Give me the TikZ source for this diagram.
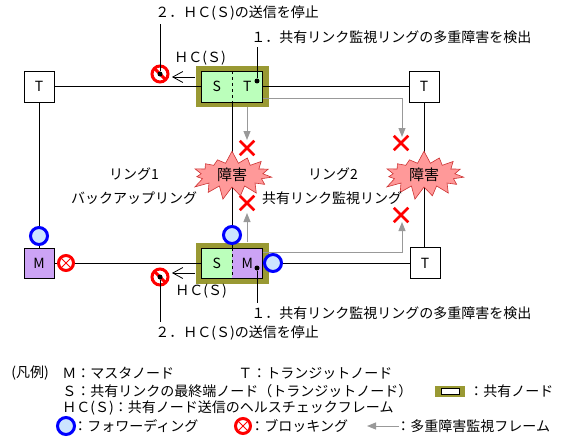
\documentclass[tikz,border=0pt]{standalone}
\usepackage{fontspec}
\setmainfont{Noto Sans CJK JP}
\usetikzlibrary{arrows.meta,positioning,shapes.misc,shapes.symbols}
\definecolor{shareolive}{HTML}{999933}
\definecolor{sgreen}{HTML}{BBFFBB}
\definecolor{mpurple}{HTML}{CCA3F5}
\definecolor{fwdblue}{HTML}{CCE4FF}
\definecolor{burstpink}{HTML}{FF9999}
\definecolor{burstred}{HTML}{CC3333}
\definecolor{mongray}{HTML}{999999}

\begin{document}
\begin{tikzpicture}[
    x=1pt, y=-1pt, line width=0.9pt,
    font=\fontsize{14pt}{16pt}\selectfont,
    box/.style={draw, fill=white, minimum width=30pt, minimum height=31pt, inner sep=0pt},
    share/.style={fill=shareolive, minimum width=73pt, minimum height=41pt, inner sep=0pt},
    half/.style={minimum width=30.5pt, minimum height=31pt, inner sep=0pt, outer sep=0pt},
    fwd/.style={circle, draw=blue, line width=3pt, fill=fwdblue, minimum size=17pt, inner sep=0pt},
    blk/.style={circle, draw=red, line width=3pt, fill=white, minimum size=15pt, inner sep=0pt,
        path picture={\node[cross out, draw=red, line width=1pt, minimum size=7pt, inner sep=0pt] at (path picture bounding box.center) {};}},
    stop/.style={circle, draw=red, line width=3pt, fill=white, minimum size=16pt, inner sep=0pt,
        path picture={\draw[red, line width=3pt] (path picture bounding box.north west) -- (path picture bounding box.south east);}},
    xmark/.style={cross out, draw=red, line width=2.5pt, minimum size=12pt, inner sep=0pt},
    burst/.style={starburst, starburst points=15, starburst point height=13pt, random starburst=7,
        fill=burstpink, draw=burstred, line width=0.6pt, minimum width=88pt, minimum height=50pt, inner sep=0pt,
        font=\fontsize{15pt}{16pt}\selectfont},
    monitor/.style={-{Triangle[length=9pt,width=7pt]}, draw=mongray, line width=1pt},
    hc/.style={-{Straight Barb[length=10pt,width=11pt]}, line width=0.8pt},
    dot/.style={circle, fill, inner sep=0pt, minimum size=5pt},
    txt/.style={inner sep=0pt, anchor=west},
]
\useasboundingbox (0,0) rectangle (583,441);

% ring nodes
\node[box] (transL) at (39,86.5) {T};
\node[box] (transR) at (424,86.5) {T};
\node[box] (transB) at (425,263) {T};
\node[box, fill=mpurple, minimum height=30pt] (master) at (39,263) {M};

\node[share] (top) at (232,86.5) {};
\node[half, fill=sgreen] (topS) at (216.75,86.5) {S};
\node[half, fill=sgreen, right=0pt of topS] (topT) {T};
\draw (topS.north west) rectangle (topT.south east);
\draw[dashed] (topS.north east) -- (topS.south east);

\node[share] (bot) at (232,263) {};
\node[half, fill=sgreen, minimum height=30pt] (botS) at (216.75,263) {S};
\node[half, fill=mpurple, minimum height=30pt, right=0pt of botS] (botM) {M};
\draw (botS.north west) rectangle (botM.south east);
\draw[dashed] (botS.north east) -- (botS.south east);

% ring links
\draw (transL) -- (topS);
\draw (topT) -- (transR);
\draw (transL) -- (master);
\draw (transR.south) -- (transR.south |- transB.north);
\draw (topS.south east) -- (botS.north east);
\draw (master) -- (botS);
\draw (botM) -- (transB);

% monitor frames
\coordinate (m1) at (402,137);
\coordinate (m2) at (247,140);
\coordinate (m3) at (247,213);
\coordinate (m4) at (402,222);
\draw[monitor] ([yshift=3pt]topT.south east) -| (m1);
\draw[monitor] (m2 |- top.south) -- (m2);
\draw[monitor] (m3 |- bot.north) -- (m3);
\draw[monitor] ([yshift=-4pt]botM.north east) -| (m4);

\foreach \p [count=\i] in {{(247,148)}, {(401,143)}, {(247,203)}, {(401,215)}}
    \node[xmark] (x\i) at \p {};

\node[burst] (burstL) at (232,175) {障害};
\node[burst] (burstR) at (424,175) {障害};

% port states
\node[fwd] (fwdM) at (39,236) {};
\node[fwd] (fwdS) at (232,235) {};
\node[fwd] (fwdB) at (273,263) {};
\node[blk] (blkM) at (66,263) {};

% HC(S)
\coordinate (hc1) at (172,77);
\coordinate (hc2) at (172,273);
\draw[hc] ([yshift=9.5pt]top.west) -- (hc1);
\draw[hc] ([yshift=-10pt]bot.west) -- (hc2);
\node (hcT) at (200,58) {ＨＣ(Ｓ)};
\node (hcB) at (201,291) {ＨＣ(Ｓ)};
\node[stop] (stopT) at (160,74) {};
\node[stop] (stopB) at (160,277) {};

% callouts
\node[txt] (stopTl) at (155,13) {２．ＨＣ(Ｓ)の送信を停止};
\node[txt] (detTl) at (251,37) {１．共有リンク監視リングの多重障害を検出};
\node[txt] (detBl) at (251,313) {１．共有リンク監視リングの多重障害を検出};
\node[txt] (stopBl) at (155,333) {２．ＨＣ(Ｓ)の送信を停止};
\node[dot] (dT) at (257,81) {};
\node[dot] (dB) at (257,268) {};
\node[dot] (sT) at (stopT) {};
\node[dot] (sB) at (stopB) {};
\draw (dT) -- ([yshift=-3pt]dT |- detTl.south);
\draw (dB) -- ([yshift=3pt]dB |- detBl.north);
\draw (sT) -- ([yshift=-3pt]sT |- stopTl.south);
\draw (sB) -- ([yshift=3pt]sB |- stopBl.north);

% ring names
\node (ring1) at (134,174) {リング1};
\node (ring2) at (333,174) {リング2};
\node (ring1b) at (134,198) {バックアップリング};
\node (ring2b) at (332,198) {共有リンク監視リング};

% legend
\node[txt] (legend) at (11,373) {(凡例)};
\node[txt] at (62,373) {Ｍ：マスタノード};
\node[txt] at (238,373) {Ｔ：トランジットノード};
\node[txt] at (62,391) {Ｓ：共有リンクの最終端ノード（トランジットノード）};
\node[fill=shareolive, minimum width=30pt, minimum height=11pt, inner sep=0pt] (lgShare) at (450,391) {};
\node[draw, fill=white, minimum width=18pt, minimum height=6pt, inner sep=0pt] at (lgShare) {};
\node[txt] at (469,391) {：共有ノード};
\node[txt] at (62,408) {ＨＣ(Ｓ)：共有ノード送信のヘルスチェックフレーム};
\node[fwd] (lgFwd) at (66,426) {};
\node[txt] at (73,426) {：フォワーディング};
\node[blk] (lgBlk) at (243,426) {};
\node[txt] at (250,426) {：ブロッキング};
\coordinate (lgA) at (399,426);
\coordinate (lgB) at (367,426);
\draw[monitor] (lgA) -- (lgB);
\node[txt] at (396,426) {：多重障害監視フレーム};
\end{tikzpicture}
\end{document}
